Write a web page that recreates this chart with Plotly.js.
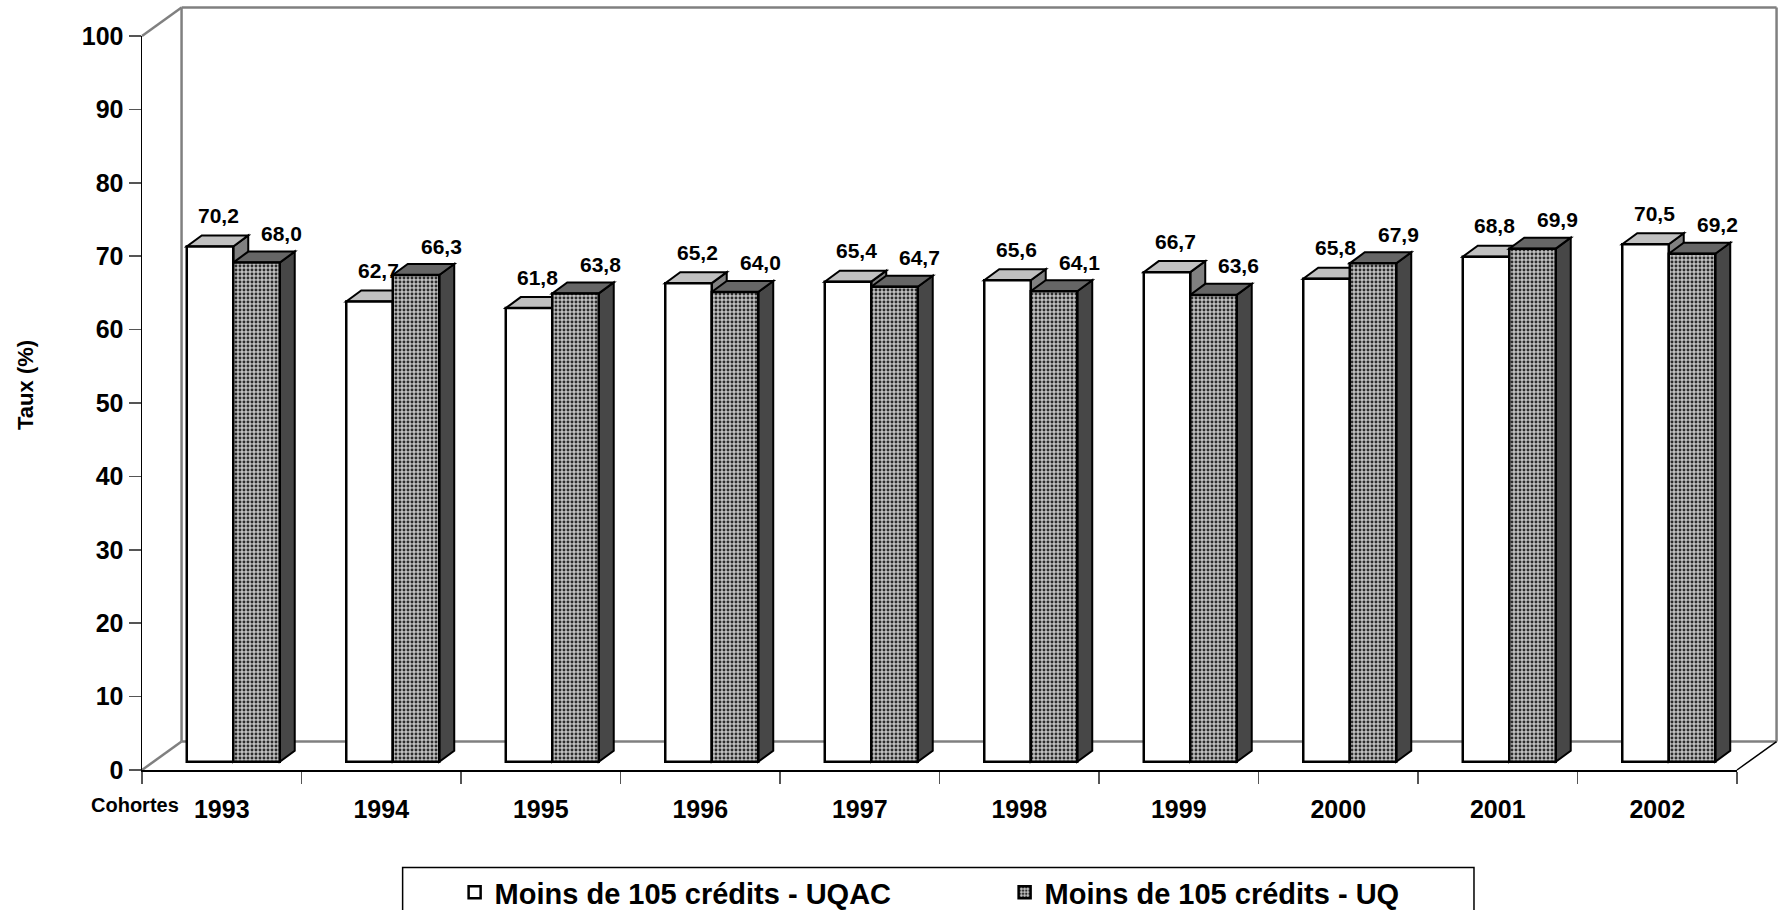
<!DOCTYPE html>
<html>
<head>
<meta charset="utf-8">
<script src="https://cdn.plot.ly/plotly-3.0.1.min.js"></script>
<style>
  html, body { margin:0; padding:0; background:#fff; }
  #chart { width:1778px; height:910px; }
</style>
</head>
<body>
<div id="chart"></div>
<script>
// ---- data ----
const cohorts = ['1993','1994','1995','1996','1997','1998','1999','2000','2001','2002'];
const uqac    = [70.2, 62.7, 61.8, 65.2, 65.4, 65.6, 66.7, 65.8, 68.8, 70.5];
const uq      = [68.0, 66.3, 63.8, 64.0, 64.7, 64.1, 63.6, 67.9, 69.9, 69.2];
const seriesNames = ['Moins de 105 crédits - UQAC', 'Moins de 105 crédits - UQ'];
const yTitle = 'Taux (%)';
const xLabel = 'Cohortes';

// ---- style / geometry constants ----
const FONT = 'Liberation Sans, Arial, sans-serif';
const B = 1.13;          // bars stand slightly behind the front edge
const W = 0.2915;        // bar width (category units)
const OFF_W = -0.2194;   // white bar offset
const OFF_G = OFF_W + W; // grey bar offset
const DX = 0.094;        // 3D depth in x (category units)
const DY = 1.5;          // 3D depth in y (value units)
const WALL_DX = 0.0248, WALL_DY = 0.0388; // wall depth in paper units

function fmt(v){ return v.toFixed(1).replace('.', ','); }
function path(pts){ return 'M' + pts.map(p => p[0].toFixed(4) + ',' + p[1].toFixed(4)).join('L') + 'Z'; }

const traces = [
  {
    type:'bar', name: seriesNames[0], x: cohorts, y: uqac, base: B,
    width: W, offset: OFF_W,
    marker:{ color:'#ffffff', line:{ color:'#000', width:2.5 } },
    hoverinfo:'skip'
  },
  {
    type:'bar', name: seriesNames[1], x: cohorts, y: uq, base: B,
    width: W, offset: OFF_G,
    marker:{ color:'#858585', line:{ color:'#000', width:2.5 },
      pattern:{ shape:'.', fgcolor:'#2c2c2c', bgcolor:'#c0c0c0', size:4, solidity:0.42, fillmode:'replace' } },
    hoverinfo:'skip'
  },
  { type:'scatter', x:[-0.5, 9.5], y:[0, 0], xaxis:'x2', yaxis:'y', mode:'none', showlegend:false, hoverinfo:'skip' }
];

const shapes = [];
const wallLine = { color:'#808080', width:2.5 };
function pline(x0,y0,x1,y1,line){ shapes.push({type:'line', xref:'paper', yref:'paper', x0, y0, x1, y1, line, layer:'below'}); }
// back wall + floor
pline(0, 1, WALL_DX, 1 + WALL_DY, wallLine);
pline(WALL_DX, WALL_DY, WALL_DX, 1 + WALL_DY, wallLine);
pline(WALL_DX, 1 + WALL_DY, 1 + WALL_DX, 1 + WALL_DY, wallLine);
pline(1 + WALL_DX, WALL_DY, 1 + WALL_DX, 1 + WALL_DY, wallLine);
pline(WALL_DX, WALL_DY, 1 + WALL_DX, WALL_DY, wallLine);
pline(0, 0, WALL_DX, WALL_DY, wallLine);
pline(1, 0, 1 + WALL_DX, WALL_DY, { color:'#000', width:1.5 });

// 3D faces of bars
function faces(vals, off, topColor, sideColor){
  vals.forEach((v, i) => {
    const xl = i + off, xr = xl + W, yt = B + v;
    shapes.push({ type:'path', xref:'x2', yref:'y', layer:'below',
      path: path([[xr, B], [xr, yt], [xr + DX, yt + DY], [xr + DX, B + DY]]),
      fillcolor: sideColor, line:{ color:'#000', width:2 } });
    shapes.push({ type:'path', xref:'x2', yref:'y', layer:'below',
      path: path([[xl, yt], [xr, yt], [xr + DX, yt + DY], [xl + DX, yt + DY]]),
      fillcolor: topColor, line:{ color:'#000', width:2 } });
  });
}
faces(uqac, OFF_W, '#c0c0c0', '#808080');
faces(uq, OFF_G, '#666666', '#474747');

// legend frame
shapes.push({ type:'rect', xref:'paper', yref:'paper', x0:0.1634, x1:0.8351, y0:-0.1328, y1:-0.25,
  line:{ color:'#000', width:1.5 }, fillcolor:'#fff', layer:'below' });

const annotations = [];
const labelFont = { family:FONT, size:21, weight:'bold', color:'#000' };
uqac.forEach((v, i) => annotations.push({ xref:'x2', yref:'y', x: i - 0.02, y: B + v, yshift: 31,
  text: fmt(v), showarrow:false, xanchor:'center', yanchor:'middle', font: labelFont }));
uq.forEach((v, i) => annotations.push({ xref:'x2', yref:'y', x: i + 0.376, y: B + v, yshift: 29,
  text: fmt(v), showarrow:false, xanchor:'center', yanchor:'middle', font: labelFont }));
annotations.push({ xref:'paper', yref:'paper', x:-0.0734, y:0.5245, text:yTitle, textangle:-90,
  showarrow:false, xanchor:'center', yanchor:'middle', font:{ family:FONT, size:22, weight:'bold', color:'#000' } });
annotations.push({ xref:'paper', yref:'paper', x:0.0245, y:-0.0477, text:xLabel,
  showarrow:false, xanchor:'right', yanchor:'middle', font:{ family:FONT, size:20, weight:'bold', color:'#000' } });

const layout = {
  width:1778, height:910,
  margin:{ l:142, r:41, t:36, b:140, autoexpand:false },
  paper_bgcolor:'#ffffff', plot_bgcolor:'rgba(0,0,0,0)',
  font:{ family:FONT, color:'#000' },
  barmode:'overlay',
  showlegend:true,
  legend:{ orientation:'h', x:0.1960, xanchor:'left', y:-0.1320, yanchor:'top',
    bgcolor:'rgba(0,0,0,0)', borderwidth:0, entrywidth:505, entrywidthmode:'pixels',
    font:{ family:FONT, size:29, weight:'bold', color:'#000' } },
  xaxis:{ type:'category', range:[-0.5, 9.5], tickson:'boundaries', ticks:'outside', ticklen:12,
    tickwidth:1.5, tickcolor:'#555', showline:true, linecolor:'#000', linewidth:2,
    showgrid:false, zeroline:false, fixedrange:true, ticklabelstandoff:16,
    tickfont:{ family:FONT, size:25, weight:'bold', color:'#000' } },
  xaxis2:{ type:'linear', overlaying:'x', range:[-0.5, 9.5], visible:false, fixedrange:true },
  yaxis:{ range:[0, 100], dtick:10, ticks:'outside', ticklen:12, tickwidth:1.5, tickcolor:'#555',
    showline:true, linecolor:'#000', linewidth:1.5, showgrid:false, zeroline:false, fixedrange:true,
    tickfont:{ family:FONT, size:25, weight:'bold', color:'#000' } },
  shapes, annotations
};

Plotly.newPlot('chart', traces, layout, { staticPlot:true, displayModeBar:false });
</script>
</body>
</html>
